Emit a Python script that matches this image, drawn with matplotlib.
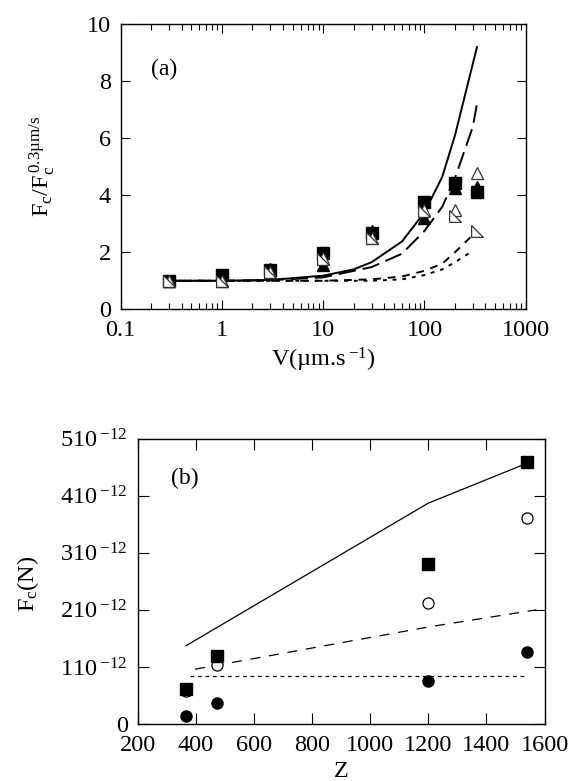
import matplotlib
matplotlib.use("Agg")
import matplotlib.pyplot as plt
from matplotlib.ticker import LogLocator, NullFormatter, FixedLocator, FixedFormatter

plt.rcParams['font.family'] = ['Liberation Serif', 'DejaVu Serif']
plt.rcParams['mathtext.fontset'] = 'custom'
plt.rcParams['mathtext.rm'] = 'Liberation Serif'
plt.rcParams['mathtext.it'] = 'Liberation Serif'
plt.rcParams['mathtext.default'] = 'rm'

# ---------------- panel (a) data ----------------
V = [0.3, 1, 3, 10, 30, 100, 200, 330]
sq_filled = [1.0, 1.2, 1.39, 1.99, 2.66, 3.77, 4.42, 4.12]
tri_filled = [1.0, 1.0, 1.4, 1.55, 2.75, 3.19, 4.24, 4.3]
tri_open = [1.0, 1.0, 1.3, 1.8, 2.5, 3.5, 3.48, 4.77]
rtri_open = [0.98, 0.98, 1.3, 1.75, 2.5, 3.45, 3.27, 2.74]

V_solid = [0.3, 1, 3, 10, 20, 30, 60, 100, 150, 200, 330]
F_solid = [1.0, 1.0, 1.03, 1.18, 1.4, 1.65, 2.38, 3.4, 4.65, 6.1, 9.2]
V_long = [0.3, 1, 3, 10, 30, 60, 100, 150, 200, 300, 330]
F_long = [1.0, 1.0, 1.02, 1.12, 1.48, 1.95, 2.75, 3.6, 4.6, 6.4, 7.2]
V_med = [0.3, 1, 3, 10, 30, 60, 100, 150, 200, 330]
F_med = [1.0, 1.0, 1.0, 1.0, 1.05, 1.15, 1.35, 1.6, 2.0, 2.75]
V_dot = [0.3, 1, 3, 10, 30, 60, 100, 150, 200, 300]
F_dot = [1.0, 1.0, 1.0, 1.0, 1.0, 1.05, 1.2, 1.4, 1.65, 2.05]

# ---------------- panel (b) data ----------------
Z = [366, 472, 1200, 1540]
Fc_sq = [61, 119, 280, 460]        # in units of 1e-12 N (scaled as in the figure)
Fc_open = [57, 103, 212, 361]
Fc_filled = [14, 37, 75, 127]
Z_solid = [366, 1200, 1540]
F_solid_b = [137, 387, 457]
Z_dash = [398, 1200, 1572]
F_dash_b = [96, 170, 200]
Z_dot = [380, 1528]
F_dot_b = [84, 84]
yticks_b = [0, 100, 200, 300, 400, 500]
yticklabels_b = ['0', '110$\\,^{-12}$', '210$\\,^{-12}$', '310$\\,^{-12}$', '410$\\,^{-12}$', '510$\\,^{-12}$']
xticks_b = [200, 400, 600, 800, 1000, 1200, 1400, 1600]

FS = 17.5

fig = plt.figure(figsize=(5.71, 7.81), dpi=100)

# ---- panel (a)
ax1 = fig.add_axes([0.2114, 0.6040, 0.7093, 0.3649])
ax1.set_xscale('log')
ax1.set_xlim(0.1, 1000)
ax1.set_ylim(0, 10)

ax1.plot(V_solid, F_solid, '-', color='black', lw=1.4, zorder=2)
ax1.plot(V_long, F_long, color='black', lw=1.4, dashes=(9, 3.5), zorder=2)
ax1.plot(V_med, F_med, color='black', lw=1.4, dashes=(4, 3.5), zorder=2)
ax1.plot(V_dot, F_dot, color='black', lw=1.4, dashes=(2, 3), zorder=2)

rtri = [(-1, 1), (-1, -1), (1, -1), (-1, 1)]
ms = 8.5
ax1.plot(V, sq_filled, 's', color='black', ms=ms, zorder=3, ls='none')
ax1.plot(V, tri_filled, '^', color='black', ms=ms, zorder=4, ls='none')
ax1.plot(V, tri_open, '^', mfc='white', mec='#333333', mew=0.9, ms=ms, zorder=5, ls='none')
ax1.plot(V, rtri_open, marker=rtri, mfc='white', mec='#333333', mew=0.9, ms=ms, zorder=6, ls='none')

ax1.xaxis.set_minor_locator(LogLocator(base=10, subs=range(2, 10), numticks=10))
ax1.xaxis.set_minor_formatter(NullFormatter())
ax1.set_xticks([0.1, 1, 10, 100, 1000])
ax1.set_xticklabels(['0.1', '1', '10', '100', '1000'])
ax1.set_yticks([0, 2, 4, 6, 8, 10])
ax1.set_yticklabels(['0', '2', '4', '6', '8', '10'])
ax1.tick_params(which='major', direction='in', top=True, right=True, length=6.5, width=0.8,
                labelsize=FS, pad=7)
ax1.tick_params(which='minor', direction='in', top=True, right=True, length=4, width=0.8)
ax1.tick_params(axis='x', which='major', pad=8)
for s in ax1.spines.values():
    s.set_linewidth(1.0)

ax1.text(0.076, 0.843, '(a)', transform=ax1.transAxes, fontsize=17, va='center', ha='left')
ax1.set_xlabel('V(\u00b5m.s$\\,^{-1}$)', fontsize=FS, va='center')
ax1.xaxis.set_label_coords(0.5, -0.178)
ax1.set_ylabel('F$_c$/F$_c^{\\,0.3\u00b5m/s}$', fontsize=FS, va='center')
ax1.yaxis.set_label_coords(-0.195, 0.5)

# ---- panel (b)
ax2 = fig.add_axes([0.241, 0.0730, 0.7126, 0.3653])
ax2.set_xlim(200, 1600)
ax2.set_ylim(0, 500)

ax2.plot(Z_solid, F_solid_b, '-', color='black', lw=0.9, zorder=2)
ax2.plot(Z_dash, F_dash_b, color='black', lw=0.9, dashes=(8, 7), zorder=2)
ax2.plot(Z_dot, F_dot_b, color='black', lw=0.9, dashes=(3, 3), zorder=2)

ax2.plot(Z, Fc_open, 'o', mfc='white', mec='black', mew=0.9, ms=8, zorder=3, ls='none')
ax2.plot(Z, Fc_sq, 's', color='black', ms=8.5, zorder=4, ls='none')
ax2.plot(Z, Fc_filled, 'o', color='black', ms=8, zorder=4, ls='none')

ax2.xaxis.set_major_locator(FixedLocator(xticks_b))
ax2.set_xticklabels([str(t) for t in xticks_b])
ax2.yaxis.set_major_locator(FixedLocator(yticks_b))
ax2.yaxis.set_major_formatter(FixedFormatter(yticklabels_b))
ax2.tick_params(which='major', direction='in', top=True, right=True, length=8, width=0.8,
                labelsize=FS, pad=7)
ax2.tick_params(axis='x', which='major', pad=8)
for s in ax2.spines.values():
    s.set_linewidth(1.0)

ax2.text(0.083, 0.862, '(b)', transform=ax2.transAxes, fontsize=17, va='center', ha='left')
ax2.set_xlabel('Z', fontsize=FS, va='center')
ax2.xaxis.set_label_coords(0.5, -0.165)
ax2.set_ylabel('F$_c$(N)', fontsize=FS, va='center')
ax2.yaxis.set_label_coords(-0.27, 0.49)

fig.savefig('out.png', dpi=100)
